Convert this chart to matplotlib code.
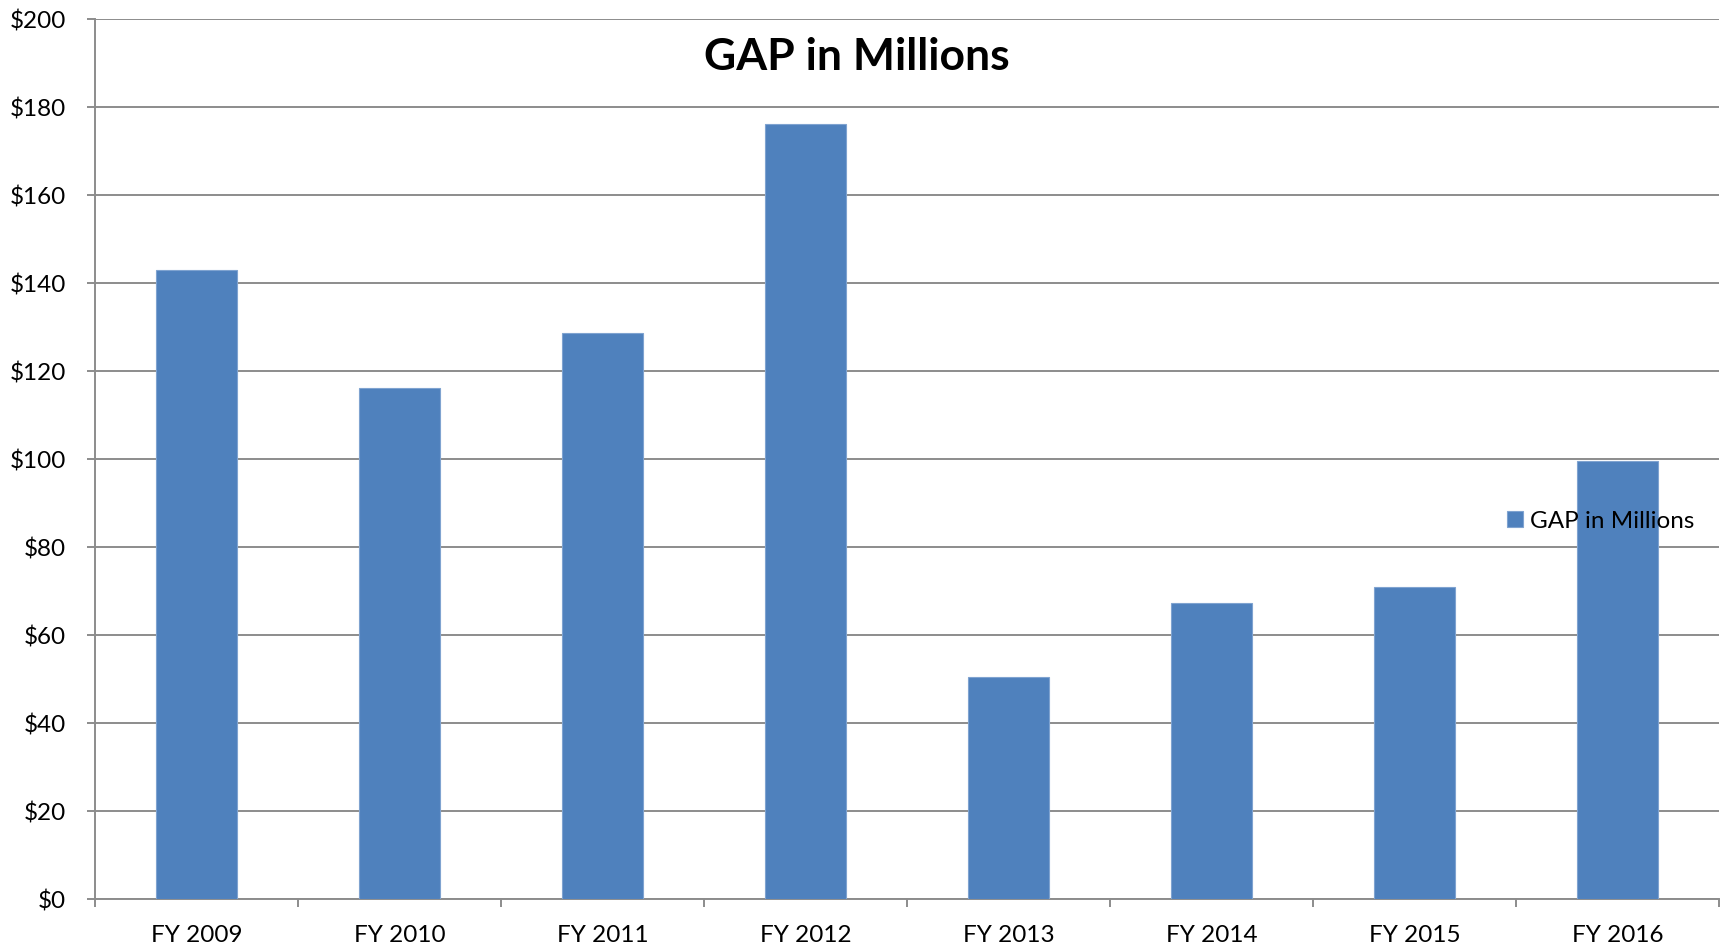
import matplotlib
matplotlib.use("Agg")
import matplotlib.pyplot as plt
import numpy as np
from matplotlib.ticker import FixedLocator, MultipleLocator, FuncFormatter

categories = ["FY 2009", "FY 2010", "FY 2011", "FY 2012", "FY 2013", "FY 2014", "FY 2015", "FY 2016"]
gap_millions = [143.1, 116.1, 128.6, 176.3, 50.4, 67.4, 70.9, 99.6]
series_name = "GAP in Millions"
title = "GAP in Millions"

plt.rcParams['font.family'] = ['Lato', 'DejaVu Sans']

W, H = 1725, 947
fig = plt.figure(figsize=(W / 100, H / 100), dpi=100)
ax = fig.add_axes([95 / W, 1 - 899 / H, (1719 - 95) / W, (899 - 19.3) / H])

x = np.arange(len(categories))
bar_color = "#4F81BD"
ax.bar(x, gap_millions, width=0.4, color=bar_color, edgecolor="#7FA3D0",
       linewidth=0.8, label=series_name, zorder=3)

ax.set_xlim(-0.5, len(categories) - 0.5)
ax.set_ylim(0, 200)

grid_col = "#8C8C8C"
ax.yaxis.set_major_locator(MultipleLocator(20))
ax.yaxis.set_major_formatter(FuncFormatter(lambda v, p: f"${v:.0f}"))
ax.grid(axis="y", color=grid_col, linewidth=1.4, zorder=0)
ax.set_axisbelow(True)

ax.set_xticks(x)
ax.set_xticklabels(categories)
ax.xaxis.set_minor_locator(FixedLocator(np.arange(-0.5, len(categories), 1.0)))
ax.tick_params(axis="x", which="major", length=0, pad=19, labelsize=17.5)
ax.tick_params(axis="x", which="minor", length=6, width=1.4, color=grid_col, direction="out")
ax.tick_params(axis="y", which="major", length=6, width=1.4, color=grid_col, direction="out",
               pad=15, labelsize=17.5)

for s in ["top", "right"]:
    ax.spines[s].set_visible(False)
for s in ["left", "bottom"]:
    ax.spines[s].set_color(grid_col)
    ax.spines[s].set_linewidth(1.4)

fig.text(857 / W, 1 - 57 / H, title, ha="center", va="center", fontsize=32, fontweight="bold")

fig.legend(loc="center left", bbox_to_anchor=(1507 / W, 1 - 521 / H), frameon=False,
           fontsize=17.5, borderpad=0, borderaxespad=0, handlelength=0.65, handleheight=0.65,
           handletextpad=0.3)

fig.savefig("out.png", dpi=100)
